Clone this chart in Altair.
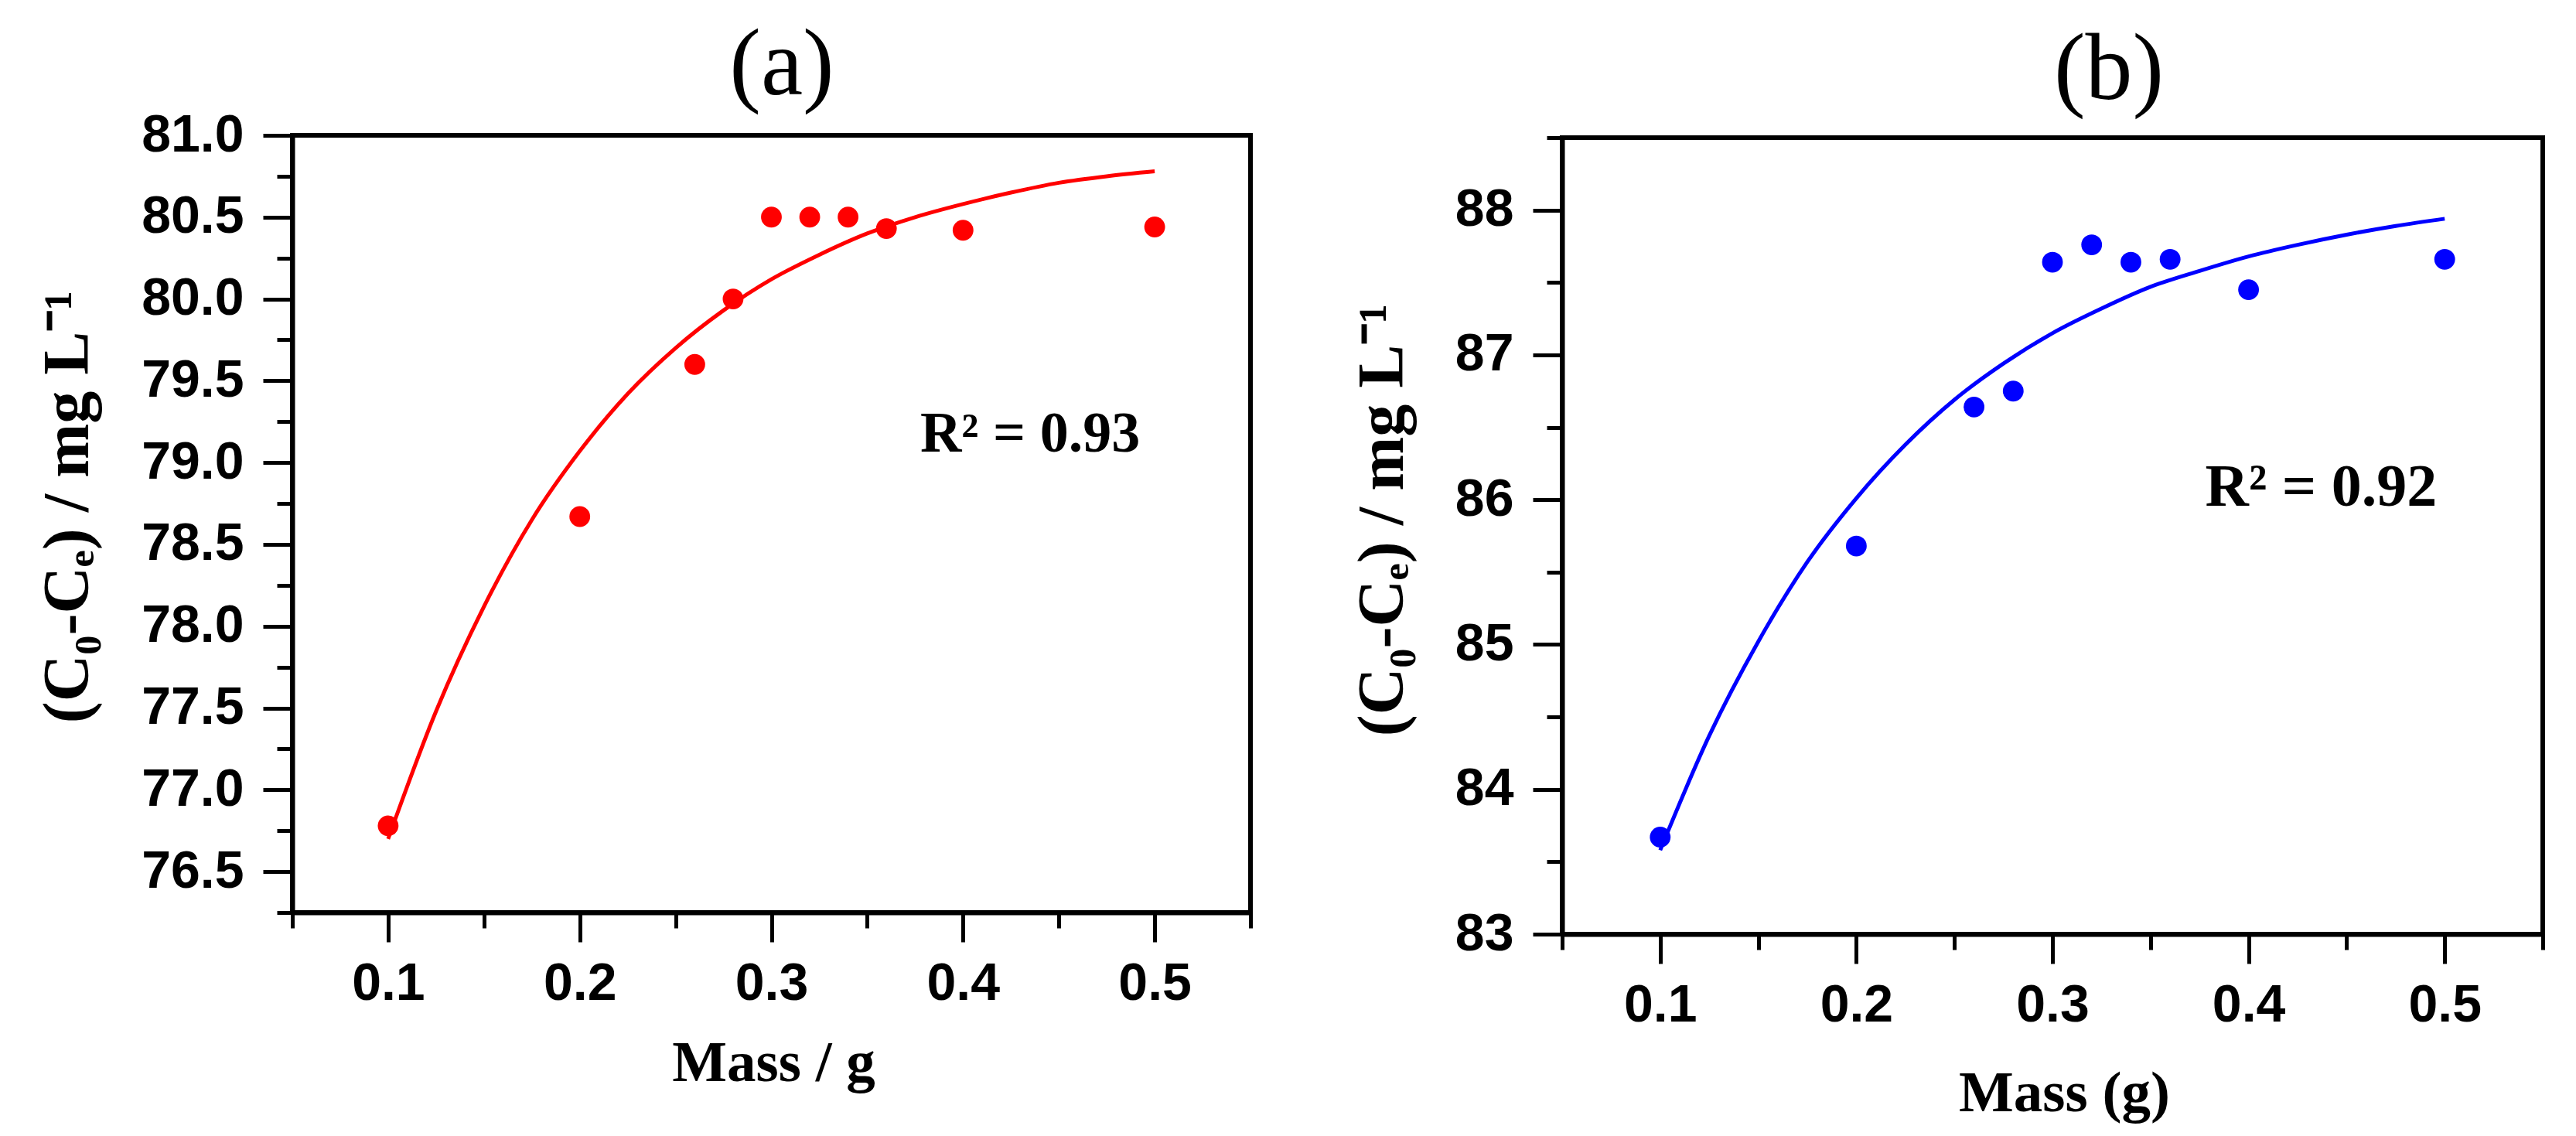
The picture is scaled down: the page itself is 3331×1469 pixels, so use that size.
import altair as alt
import pandas as pd

# ---------------- data ----------------
mass = [0.10, 0.20, 0.26, 0.28, 0.30, 0.32, 0.34, 0.36, 0.40, 0.50]
removed_a = [76.78, 78.67, 79.60, 80.00, 80.50, 80.50, 80.50, 80.43, 80.42, 80.44]
removed_b = [83.67, 85.68, 86.64, 86.75, 87.64, 87.76, 87.64, 87.66, 87.45, 87.66]

fit_x = [0.100, 0.125, 0.150, 0.175, 0.200, 0.225, 0.250, 0.275, 0.300,
         0.325, 0.350, 0.375, 0.400, 0.425, 0.450, 0.475, 0.500]
fit_a = [76.70, 77.48, 78.12, 78.65, 79.07, 79.42, 79.70, 79.93, 80.12,
         80.27, 80.40, 80.50, 80.58, 80.65, 80.71, 80.75, 80.78]
fit_b = [83.58, 84.37, 85.02, 85.57, 86.01, 86.38, 86.69, 86.94, 87.15,
         87.32, 87.47, 87.58, 87.68, 87.76, 87.83, 87.89, 87.94]

x_domain = [0.05, 0.55]
x_major = [0.1, 0.2, 0.3, 0.4, 0.5]
x_minor = [0.05, 0.15, 0.25, 0.35, 0.45, 0.55]

ya_domain = [76.25, 81.0]
ya_major = [76.5, 77.0, 77.5, 78.0, 78.5, 79.0, 79.5, 80.0, 80.5, 81.0]
ya_minor = [76.25, 76.75, 77.25, 77.75, 78.25, 78.75, 79.25, 79.75, 80.25, 80.75]

yb_domain = [83.0, 88.5]
yb_major = [83, 84, 85, 86, 87, 88]
yb_minor = [83.5, 84.5, 85.5, 86.5, 87.5, 88.5]

r2_a = {"x": [0.435], "y": [79.17], "t": ["R² = 0.93"]}
r2_b = {"x": [0.437], "y": [86.08], "t": ["R² = 0.92"]}

ylabel = "(C₀-Cₑ) / mg L⁻¹"

W, H = 3331, 1469
TICK_FONT = "Liberation Sans"
SERIF = "Liberation Serif"
LW = 6


def major_axis(orient, values, fmt, offset, title, tx, ty, tsize):
    common = dict(
        orient=orient, values=values, format=fmt, offset=offset,
        tickSize=38, tickWidth=5, tickColor="black",
        domainColor="black", domainWidth=LW,
        labelFont=TICK_FONT, labelFontWeight="bold", labelFontSize=68,
        labelColor="black", labelFlush=False, labelOverlap=False,
        grid=False, title=title, titleFont=SERIF, titleFontWeight="bold",
        titleFontSize=tsize, titleColor="black", titleX=tx, titleY=ty,
        titleAlign="center", titleBaseline="alphabetic",
    )
    if orient == "bottom":
        common.update(labelPadding=20, titleAngle=0)
    else:
        common.update(labelPadding=25, titleAngle=270)
    return alt.Axis(**common)


def minor_axis(orient, values, offset):
    return alt.Axis(orient=orient, values=values, offset=offset, tickSize=20,
                    tickWidth=5, tickColor="black", domain=False, labels=False,
                    grid=False, title="")


def panel(yvals, fitvals, ydom, xrng, yrng, ymaj, ymin, yfmt, color,
          xtitle, xtx, xty, ytx, yty, r2, r2size, tag, tagx, tagy):
    off_left = -xrng[0]
    off_bottom = yrng[0] - H
    xs = alt.Scale(domain=x_domain, range=xrng, nice=False, zero=False)
    ys = alt.Scale(domain=ydom, range=yrng, nice=False, zero=False)
    ax_x = major_axis("bottom", x_major, ".1f", off_bottom, xtitle, xtx, xty, 75)
    ax_y = major_axis("left", ymaj, yfmt, off_left, ylabel, ytx, yty, 84)

    X = alt.X("x:Q", scale=xs, axis=ax_x)
    Y = alt.Y("y:Q", scale=ys, axis=ax_y)

    pts = pd.DataFrame({"x": mass, "y": yvals})
    fit = pd.DataFrame({"x": fit_x, "y": fitvals})
    ann = pd.DataFrame(r2)

    line = alt.Chart(fit).mark_line(color=color, strokeWidth=5,
                                    interpolate="monotone").encode(x=X, y=Y)
    dots = alt.Chart(pts).mark_circle(color=color, size=720, opacity=1).encode(x=X, y=Y)
    txt = alt.Chart(ann).mark_text(font=SERIF, fontWeight="bold", fontSize=r2size,
                                   color="black", align="center",
                                   baseline="middle").encode(x=X, y=Y, text="t:N")
    ttl = alt.Chart(pd.DataFrame({"t": [tag]})).mark_text(
        font=SERIF, fontSize=122, color="black", align="center",
        baseline="alphabetic").encode(x=alt.value(tagx), y=alt.value(tagy), text="t:N")

    main = alt.layer(line, dots, txt, ttl)

    frame_df = pd.DataFrame({"x": [x_domain[0]], "x2": [x_domain[1]],
                             "y": [ydom[0]], "y2": [ydom[1]]})
    xs2 = alt.Scale(domain=x_domain, range=xrng, nice=False, zero=False)
    ys2 = alt.Scale(domain=ydom, range=yrng, nice=False, zero=False)
    frame = alt.Chart(frame_df).mark_rect(filled=False, stroke="black",
                                          strokeWidth=LW).encode(
        x=alt.X("x:Q", scale=xs2, axis=minor_axis("bottom", x_minor, off_bottom)),
        x2="x2:Q",
        y=alt.Y("y:Q", scale=ys2, axis=minor_axis("left", ymin, off_left)),
        y2="y2:Q",
    )
    return alt.layer(frame, main).resolve_scale(
        x="independent", y="independent").resolve_axis(x="independent", y="independent")


pa = panel(removed_a, fit_a, ya_domain, [378, 1617], [1180, 175], ya_major, ya_minor,
           ".1f", "#ff0000", "Mass / g", 1000, 217, -265, 655, r2_a, 74,
           "(a)", 1011, 122)
pb = panel(removed_b, fit_b, yb_domain, [2020, 3288], [1208, 178], yb_major, yb_minor,
           "d", "#0000ff", "Mass (g)", 2669, 228, -207, 672, r2_b, 78,
           "(b)", 2727, 128)

chart = alt.layer(pa, pb).resolve_scale(
    x="independent", y="independent").resolve_axis(
    x="independent", y="independent").properties(
    width=W, height=H, padding=0,
    autosize=alt.AutoSizeParams(type="none"),
    background="white",
).configure_view(strokeWidth=0)

chart.save("out.html", embed_options={"renderer": "svg", "actions": False})
